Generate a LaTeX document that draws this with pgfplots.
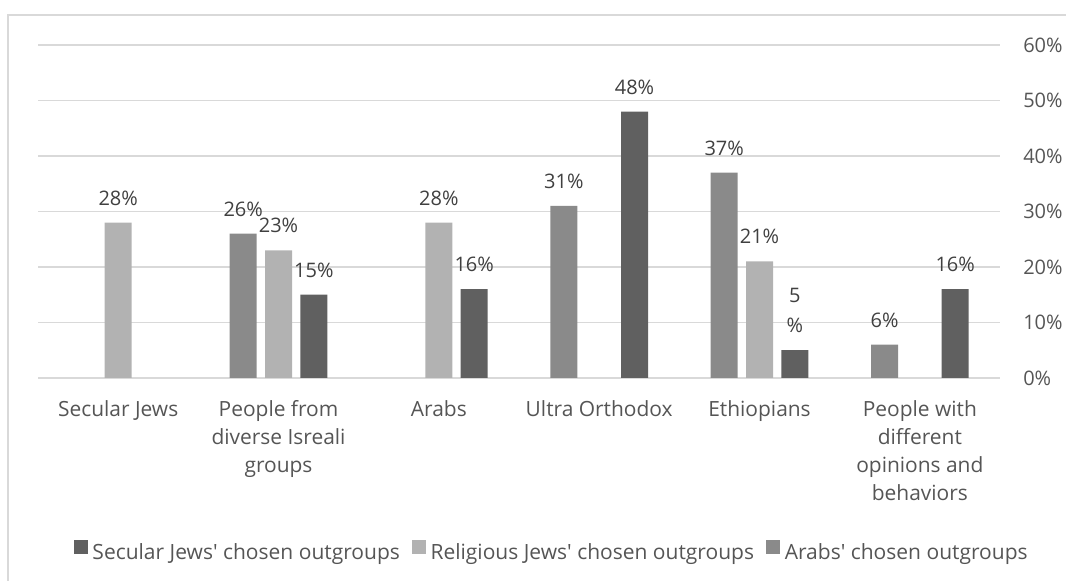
\documentclass[border=0pt]{standalone}
\usepackage{pgfplots}
\pgfplotsset{compat=1.18}
\usepackage{fontspec}
\setmainfont{Open Sans}
\definecolor{secular}{HTML}{606060}
\definecolor{religious}{HTML}{B2B2B2}
\definecolor{arabs}{HTML}{8A8A8A}
\definecolor{gridgray}{HTML}{D9D9D9}
\definecolor{labelgray}{HTML}{555555}
\definecolor{datagray}{HTML}{404040}
% the Ethiopians label wraps onto two lines in the original
\protected\def\fivepct{5\\\%}
\newcommand\apo{\textquotesingle}

\begin{document}
\begin{tikzpicture}
% page = 1066 x 581 px, 1px = 0.75pt
\useasboundingbox (0pt,0pt) rectangle (799.5pt,435.75pt);
\draw[gridgray, line width=1pt] (6pt,-15pt) -- (6pt,424.5pt) -- (820pt,424.5pt);
\begin{axis}[
  at={(28.5pt,152.25pt)}, anchor=south west,
  scale only axis, width=721.5pt, height=249.75pt,
  ybar, bar width=20.25pt,
  xmin=-0.5, xmax=5.5, ymin=0, ymax=60,
  xtick={0,...,5},
  xticklabels={Secular Jews, {People from\\diverse Isreali\\groups}, Arabs,
    Ultra Orthodox, Ethiopians, {People with\\different\\opinions and\\behaviors}},
  ytick={0,10,...,60},
  yticklabels={0\%,10\%,20\%,30\%,40\%,50\%,60\%},
  yticklabel pos=right,
  major tick length=0pt,
  axis line style={draw=none},
  ymajorgrids, grid style={gridgray, line width=1pt},
  tick label style={font=\fontsize{15}{21}\selectfont, text=labelgray},
  xticklabel style={font=\fontsize{15.7}{21}\selectfont, align=center,
    inner sep=0pt, anchor=north, yshift=-17pt},
  yticklabel style={anchor=west, inner sep=0pt, xshift=17.25pt},
  point meta=explicit symbolic,
  nodes near coords={\pgfplotspointmeta},
  every node near coord/.append style={font=\fontsize{15}{22.5}\selectfont,
    text=datagray, anchor=south, inner sep=0pt, yshift=12.75pt, align=center},
  legend columns=3,
  legend image code/.code={\fill[#1] (0pt,-0.5pt) rectangle (10.5pt,10pt);},
  legend style={at={(0.533,-0.5225)}, anchor=center, draw=none, fill=none,
    font=\fontsize{15.75}{21}\selectfont, text=labelgray,
    nodes={inner xsep=0pt},
    /tikz/every odd column/.append style={column sep=3.5pt},
    /tikz/every even column/.append style={column sep=9pt}},
]
\addplot[fill=secular, draw=none, bar shift=26.5pt] coordinates {
  (1,15) [15\%] (2,16) [16\%] (3,48) [48\%] (4,5) [\fivepct] (5,16) [16\%]};
\addlegendentry{Secular Jews\apo{} chosen outgroups}
\addplot[fill=religious, draw=none, bar shift=0pt] coordinates {
  (0,28) [28\%] (1,23) [23\%] (2,28) [28\%] (4,21) [21\%]};
\addlegendentry{Religious Jews\apo{} chosen outgroups}
\addplot[fill=arabs, draw=none, bar shift=-26.5pt] coordinates {
  (1,26) [26\%] (3,31) [31\%] (4,37) [37\%] (5,6) [6\%]};
\addlegendentry{Arabs\apo{} chosen outgroups}
\end{axis}
\end{tikzpicture}
\end{document}
